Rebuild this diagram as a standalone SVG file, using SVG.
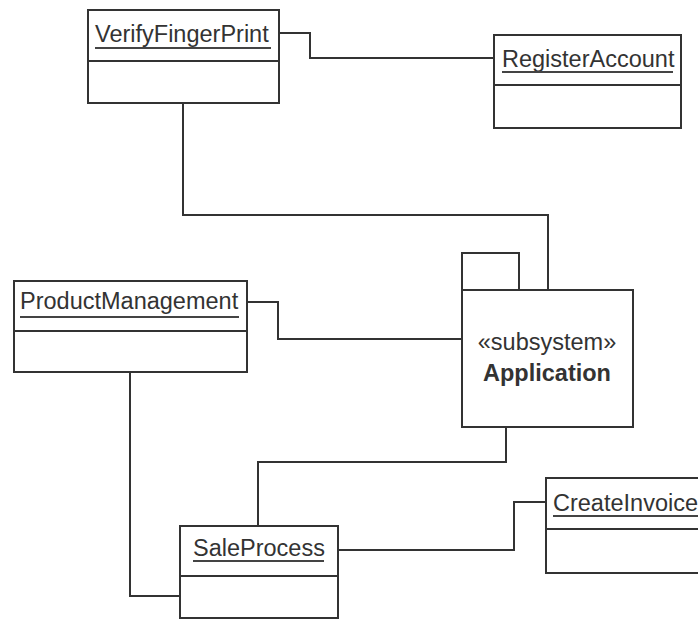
<svg xmlns="http://www.w3.org/2000/svg" width="698" height="621" viewBox="0 0 698 621">
<style>
.box{fill:#fff;stroke:#333;stroke-width:2}
.ln{fill:none;stroke:#333;stroke-width:2}
.ul{stroke:#444;stroke-width:2}
.t{font-family:"Liberation Sans",Arial,sans-serif;font-size:23.5px;fill:#333}
.b{font-weight:bold}
</style>
<rect width="698" height="621" fill="#fff"/>
<g id="connectors">
<polyline class="ln" points="279,33 310,33 310,58 494,58"/>
<polyline class="ln" points="183,103 183,215 548,215 548,290"/>
<polyline class="ln" points="247,302 278,302 278,339 462,339"/>
<polyline class="ln" points="506,427 506,462 258,462 258,526"/>
<polyline class="ln" points="130,372 130,596 180,596"/>
<polyline class="ln" points="338,550 514,550 514,502 546,502"/>
</g>
<g id="VerifyFingerPrint">
<rect class="box" x="88" y="10" width="191" height="93"/>
<line class="ln" x1="88" y1="61" x2="279" y2="61"/>
<text class="t" x="95" y="42">VerifyFingerPrint</text>
<line class="ul" x1="95" y1="48" x2="271" y2="48"/>
</g>
<g id="RegisterAccount">
<rect class="box" x="494" y="35" width="187" height="93"/>
<line class="ln" x1="494" y1="85" x2="681" y2="85"/>
<text class="t" x="502" y="67">RegisterAccount</text>
<line class="ul" x1="502" y1="72" x2="673" y2="72"/>
</g>
<g id="ProductManagement">
<rect class="box" x="14" y="281" width="233" height="91"/>
<line class="ln" x1="14" y1="331" x2="247" y2="331"/>
<text class="t" x="20" y="309">ProductManagement</text>
<line class="ul" x1="20" y1="317" x2="239" y2="317"/>
</g>
<g id="Application">
<rect class="box" x="462" y="253" width="57" height="37"/>
<rect class="box" x="462" y="290" width="171" height="137"/>
<text class="t" x="547" y="350" text-anchor="middle">«subsystem»</text>
<text class="t b" x="547" y="381" text-anchor="middle">Application</text>
</g>
<g id="SaleProcess">
<rect class="box" x="180" y="526" width="158" height="92"/>
<line class="ln" x1="180" y1="576" x2="338" y2="576"/>
<text class="t" x="193" y="556">SaleProcess</text>
<line class="ul" x1="193" y1="561" x2="324" y2="561"/>
</g>
<g id="CreateInvoice">
<rect class="box" x="546" y="478" width="170" height="95"/>
<line class="ln" x1="546" y1="529" x2="716" y2="529"/>
<text class="t" x="553" y="511">CreateInvoice</text>
<line class="ul" x1="553" y1="516" x2="698" y2="516"/>
</g>
</svg>
